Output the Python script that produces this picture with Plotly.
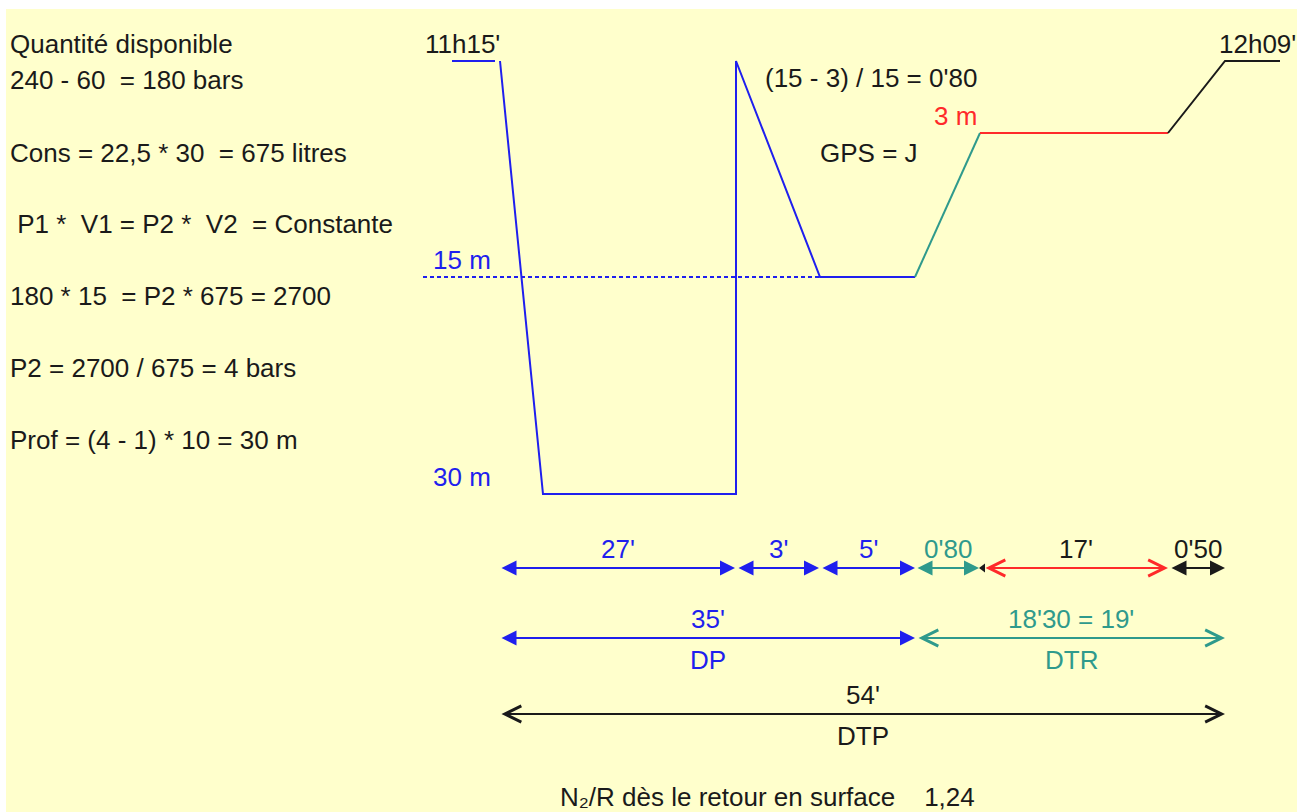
import plotly.graph_objects as go

W, H = 1304, 812
FONT = "Liberation Sans, Arial, sans-serif"
FS = 26

BLUE = "#1f1fee"
TEAL = "#2f9a8c"
RED = "#ff2a2a"
BLACK = "#1a1a1a"
BG = "#ffffcc"

# ---- data (schematic diagram, drawn in diagram units) ----
# depth levels (m) along the profile and their schematic vertical positions
depth_levels = [0, 3, 15, 30]
depth_y = {0: 61, 3: 133, 15: 277, 30: 494}

# profile nodes: schematic x and depth (m)
surface_start_x = [452, 495]
blue_x = [500, 543, 736, 736, 820, 915]
blue_d = [0, 30, 30, 0, 15, 15]
teal_x = [915, 980]
teal_d = [15, 3]
red_x = [980, 1168]
red_d = [3, 3]
black_x = [1168, 1225, 1280]
black_d = [3, 0, 0]

# duration segments (row 1)
seg_labels = ["27'", "3'", "5'", "0'80", "17'", "0'50"]
seg_start = [500, 737, 821, 916, 984, 1170]
seg_end = [735, 819, 915, 979, 1168, 1225]
seg_colors = [BLUE, BLUE, BLUE, TEAL, RED, BLACK]
seg_text_colors = [BLUE, BLUE, BLUE, TEAL, BLACK, BLACK]
seg_heads = [2, 2, 2, 2, 5, 2]

# totals (rows 2 and 3)
tot_labels = ["35'", "18'30 = 19'", "54'"]
tot_names = ["DP", "DTR", "DTP"]
tot_start = [500, 917, 500]
tot_end = [915, 1225, 1225]
tot_rows = [638, 638, 714]
tot_colors = [BLUE, TEAL, BLACK]
tot_heads = [2, 5, 5]

calc_lines = [
    "Quantité disponible",
    "240 - 60 \u00a0= 180 bars",
    "Cons = 22,5 * 30 \u00a0= 675 litres",
    "\u00a0P1 * \u00a0V1 = P2 * \u00a0V2 \u00a0= Constante",
    "180 * 15 \u00a0= P2 * 675 = 2700",
    "P2 = 2700 / 675 = 4 bars",
    "Prof = (4 - 1) * 10 = 30 m",
]
calc_y = [44, 80, 153, 224, 296, 368, 440]

start_time = "11h15'"
end_time = "12h09'"
gps_calc = "(15 - 3) / 15 = 0'80"
gps_text = "GPS = J"
n2_text = "N\u2082/R dès le retour en surface \u00a0\u00a0\u00a01,24"

ROW1 = 568


def ys(depths):
    return [depth_y[d] for d in depths]


fig = go.Figure()

# background panel
fig.add_shape(type="rect", x0=6, x1=1297, y0=9, y1=H + 5,
              fillcolor=BG, line=dict(width=0), layer="below")

# 15 m dotted reference
fig.add_trace(go.Scatter(x=[423, 820], y=[depth_y[15]] * 2, mode="lines",
                         line=dict(color=BLUE, width=2, dash="4px,3px")))

# profile
fig.add_trace(go.Scatter(x=surface_start_x, y=[depth_y[0]] * 2, mode="lines",
                         line=dict(color=BLUE, width=2)))
fig.add_trace(go.Scatter(x=blue_x, y=ys(blue_d), mode="lines",
                         line=dict(color=BLUE, width=2)))
fig.add_trace(go.Scatter(x=teal_x, y=ys(teal_d), mode="lines",
                         line=dict(color=TEAL, width=2)))
fig.add_trace(go.Scatter(x=red_x, y=ys(red_d), mode="lines",
                         line=dict(color=RED, width=2)))
fig.add_trace(go.Scatter(x=black_x, y=ys(black_d), mode="lines",
                         line=dict(color=BLACK, width=2)))

annotations = []


def darrow(x0, x1, y, color, head, width=2):
    sz = 1.5 if head == 2 else 1.6
    annotations.append(dict(
        x=x1, y=y, ax=x0, ay=y, xref="x", yref="y", axref="x", ayref="y",
        text="", showarrow=True, arrowside="end+start", arrowhead=head,
        startarrowhead=head, arrowsize=sz, startarrowsize=sz,
        arrowwidth=width, arrowcolor=color, standoff=0, startstandoff=0))


def label(x, y, text, color=BLACK, size=FS, xanchor="center"):
    annotations.append(dict(x=x, y=y, xref="x", yref="y", text=text,
                            showarrow=False, xanchor=xanchor, yanchor="middle",
                            font=dict(family=FONT, size=size, color=color)))


for i, lab in enumerate(seg_labels):
    darrow(seg_start[i], seg_end[i], ROW1, seg_colors[i], seg_heads[i])
    label((seg_start[i] + seg_end[i]) / 2, ROW1 - 19, lab, seg_text_colors[i])

# small black tick between teal and red arrows
fig.add_trace(go.Scatter(x=[983], y=[ROW1], mode="markers",
                         marker=dict(symbol="triangle-left", size=8, color=BLACK)))

for i, lab in enumerate(tot_labels):
    darrow(tot_start[i], tot_end[i], tot_rows[i], tot_colors[i], tot_heads[i])
    cx = (tot_start[i] + tot_end[i]) / 2
    label(cx, tot_rows[i] - 19, lab, tot_colors[i])
    label(cx, tot_rows[i] + 22, tot_names[i], tot_colors[i])

for t, y in zip(calc_lines, calc_y):
    label(8, y, t, BLACK, xanchor="left")

label(462, 44, start_time)
label(1257, 44, end_time)
label(871, 78, gps_calc)
label(955, 116, "3 m", RED)
label(869, 153, gps_text)
label(462, 260, "15 m", BLUE)
label(462, 477, "30 m", BLUE)
label(767, 797, n2_text)

fig.update_layout(
    width=W, height=H, margin=dict(l=0, r=0, t=0, b=0),
    paper_bgcolor="white", plot_bgcolor="rgba(0,0,0,0)",
    showlegend=False, annotations=annotations,
    xaxis=dict(range=[0, W], visible=False, fixedrange=True),
    yaxis=dict(range=[H, 0], visible=False, fixedrange=True),
)

fig.write_html("out.html", config={"displayModeBar": False},
               post_script="document.body.style.margin='0';"
                           "document.body.style.overflow='hidden';")
